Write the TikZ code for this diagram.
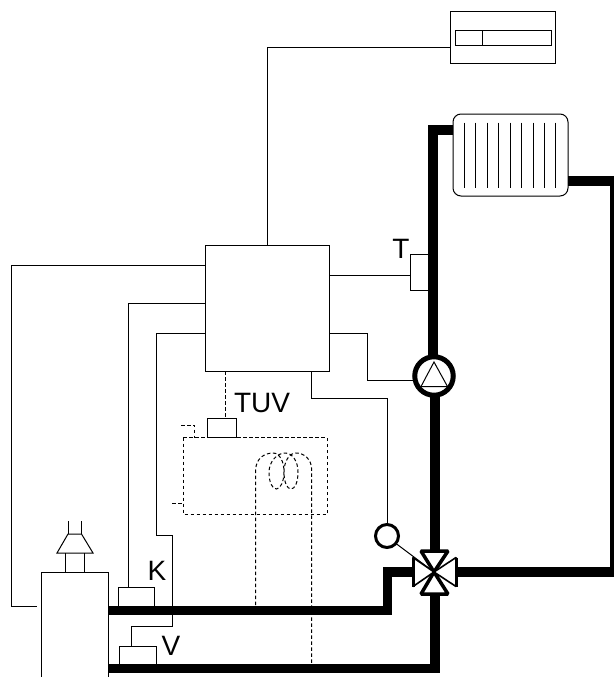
\documentclass[tikz,border=0pt]{standalone}
\usepackage{fontspec}
\setmainfont{Liberation Sans}
\begin{document}
\begin{tikzpicture}[x=1pt,y=-1pt,line width=1pt,
  boxn/.style={draw,fill=white,rectangle,inner sep=0pt,outer sep=0pt},
  wire/.style={draw,line width=1pt},
  dwire/.style={draw,line width=1pt,dash pattern=on 3.5pt off 2.5pt},
  pipe/.style={draw,line width=9.5pt,line cap=butt,line join=miter},
  lab/.style={font=\fontsize{28}{28}\selectfont,inner sep=0pt,outer sep=0pt},
  fin/.style={draw,line width=1pt},
  valvetv/.style={draw,fill=white,line width=3.5pt,line join=bevel},
  valveth/.style={draw,fill=white,line width=1.6pt,line join=bevel},
  valvebase/.style={draw,line width=3pt,line cap=butt}]
\useasboundingbox (0,0) rectangle (613,677);
% nodes
\node[boxn,minimum width=124pt,minimum height=126pt] (ctrl) at (267,308) {};
\node[boxn,minimum width=105.5pt,minimum height=52pt] (disp) at (502.75,38) {};
\node[boxn,minimum width=96pt,minimum height=15pt] (dispin) at (503,38) {};
\coordinate (dt) at (482,30.5);
\coordinate (db) at (482,45.5);
\draw[wire] (dt) -- (db);
\node[boxn,rounded corners=8pt,minimum width=115pt,minimum height=82pt] (rad) at (510.5,155) {};
\foreach \fx in {464,475.5,487,498.5,510,521.5,533,544,555.5}
  \draw[fin] (\fx,122.5) -- (\fx,188);
\node[boxn,minimum width=19pt,minimum height=36.5pt] (tsens) at (419.5,272.5) {};
\node[draw,fill=white,circle,line width=5pt,inner sep=0pt,outer sep=0pt,minimum size=38.5pt] (pump) at (434,376) {};
\coordinate (pa) at (434,362);
\coordinate (pb) at (421,386.5);
\coordinate (pc) at (447.5,386.5);
\draw[line width=1pt] (pa) -- (pb) -- (pc) -- cycle;
\node[draw,fill=white,circle,line width=3pt,inner sep=0pt,outer sep=0pt,minimum size=23pt] (sens) at (387,536) {};
\node[boxn,minimum width=29pt,minimum height=19pt] (tuv) at (222.25,428) {};
\node[boxn,minimum width=36pt,minimum height=19pt] (kbox) at (136,596.5) {};
\node[boxn,minimum width=37pt,minimum height=18pt] (vbox) at (138,655) {};
\coordinate (vc) at (434,572);
% pipes
\draw[pipe] (rad.west |- 0,130) -- (433,130) -- (433,357);
\draw[pipe] (435,396) -- (435,552);
\draw[pipe] (rad.east |- 0,181) -- (614.5,181) -- (614.5,572) -- (456,572);
\draw[pipe] (414,572) -- (387.5,572) -- (387.5,610.5) -- (108.5,610.5);
\draw[pipe] (435,593) -- (435,668.5) -- (108.5,668.5);
% valve
\coordinate (vt1) at (421,551);
\coordinate (vt2) at (448,551);
\coordinate (vb1) at (421,594);
\coordinate (vb2) at (448,594);
\coordinate (vl1) at (413,557.5);
\coordinate (vl2) at (413,586.5);
\coordinate (vr1) at (456,557.5);
\coordinate (vr2) at (456,586.5);
\path[valvetv] (vt1) -- (vt2) -- (vc) -- cycle;
\path[valvetv] (vb1) -- (vb2) -- (vc) -- cycle;
\path[valveth] (vl1) -- (vl2) -- (vc) -- cycle;
\path[valveth] (vr1) -- (vr2) -- (vc) -- cycle;
\path[valvebase] (vl1) -- (vl2) (vr1) -- (vr2);
% boiler
\coordinate (bl) at (41,680);
\coordinate (blt) at (41,572.5);
\coordinate (brt) at (108.5,572.5);
\coordinate (br) at (108.5,680);
\draw[wire] (bl) -- (blt) -- (brt) -- (br);
% chimney
\coordinate (c1) at (65.5,572.5);
\coordinate (c2) at (84,572.5);
\coordinate (c3) at (65.5,553);
\coordinate (c4) at (84,553);
\coordinate (c5) at (57,553);
\coordinate (c6) at (93,553);
\coordinate (c7) at (68,534);
\coordinate (c8) at (81.5,534);
\coordinate (c9) at (68,521);
\coordinate (c10) at (81.5,521);
\draw[wire] (c1) -- (c3) (c2) -- (c4);
\draw[wire] (c5) -- (c7) -- (c8) -- (c6) -- cycle;
\draw[wire] (c7) -- (c9) (c8) -- (c10);
% wires
\draw[wire] (disp.west |- 0,47.5) -- (267,47.5) -- (ctrl.north);
\draw[wire] (ctrl.east |- 0,275) -- (tsens.west |- 0,275);
\draw[wire] (ctrl.east |- 0,333) -- (367.3,333) -- (367.3,380) -- (pump.west |- 0,380);
\draw[wire] (ctrl.south -| 311,0) -- (311,398.5) -- (387,398.5) -- (sens.north);
\draw[wire] (sens.-40) -- (vc);
\coordinate (boilin) at (37,606.5);
\draw[wire] (ctrl.west |- 0,265) -- (11,265) -- (11,606.5) -- (boilin);
\draw[wire] (ctrl.west |- 0,303) -- (128.5,303) -- (128.5,587);
\draw[wire] (ctrl.west |- 0,333) -- (156,333) -- (156,535) -- (172.5,535) -- (172.5,626) -- (131,626) -- (131,646);
% dashed
\draw[dwire] (ctrl.south -| 225,0) -- (225,418.5);
\draw[dwire] (183.3,437.5) rectangle (327.3,514.3);
\coordinate (s1) at (181,425);
\coordinate (s2) at (172,503.3);
\draw[dwire] (s1) -- (194.3,425) -- (194.3,437.5);
\draw[dwire] (s2) -- (183.3,503.3);
\coordinate (coilL) at (255.7,605);
\coordinate (coilR) at (311.7,663);
\draw[dwire] (coilL) -- (255.7,470)
  .. controls (255.7,459) and (264,453) .. (273,453)
  .. controls (280,453) and (284,462) .. (284,472)
  .. controls (284,482) and (280,489) .. (276.5,489)
  .. controls (272,489) and (269,482) .. (269,472)
  .. controls (269,462) and (277,453) .. (285,453)
  .. controls (293,453) and (298,462) .. (298,472)
  .. controls (298,482) and (295,489) .. (291,489)
  .. controls (287,489) and (284,482) .. (284,472)
  .. controls (284,462) and (289,453) .. (296,453)
  .. controls (304,453) and (311.7,459) .. (311.7,470)
  -- (coilR);
% labels
\node[lab] (lt) at (401,249) {T};
\node[lab] (ltuv) at (262,403) {TUV};
\node[lab] (lk) at (157,570.5) {K};
\node[lab] (lv) at (171,646) {V};
\end{tikzpicture}
\end{document}
